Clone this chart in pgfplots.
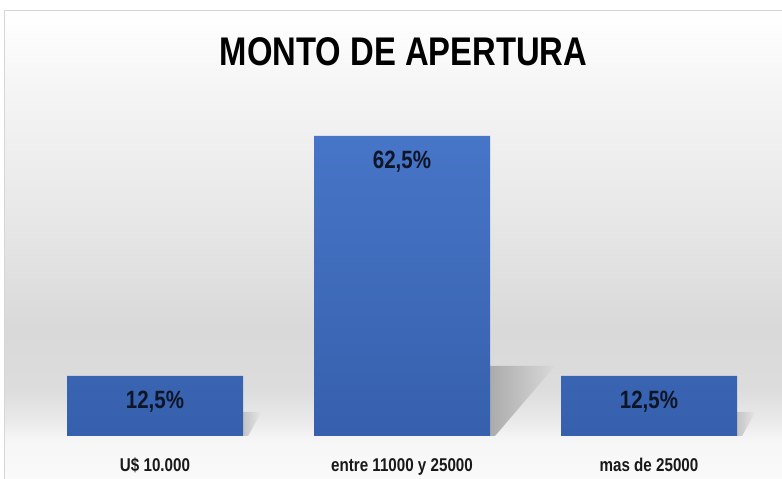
\documentclass[border=0pt]{standalone}
\usepackage{pgfplots}
\pgfplotsset{compat=1.18}
\usepackage{fontspec}
\setmainfont{Liberation Sans}[FakeStretch=0.82]
\definecolor{barTop}{HTML}{4775C7}
\definecolor{barBot}{HTML}{3660AD}
\definecolor{lbl}{HTML}{0D1526}
\definecolor{frame}{HTML}{D6D6D6}
\definecolor{g0}{gray}{0.980}
\definecolor{g1}{gray}{0.965}
\definecolor{g2}{gray}{0.915}
\definecolor{g3}{gray}{0.865}
\definecolor{g4}{gray}{0.850}
\definecolor{g5}{gray}{0.915}
\definecolor{g6}{gray}{0.955}
\definecolor{g7}{gray}{1.0}
\definecolor{shDark}{HTML}{ABABAB}
\definecolor{shLight}{HTML}{D9D9D9}
\definecolor{shDarkS}{HTML}{C4C4C4}
\definecolor{shLightS}{HTML}{E6E6E6}
\pgfdeclareverticalshading{bgshade}{100bp}{color(0bp)=(g0); color(25bp)=(g0); color(29.16bp)=(g1); color(31.3bp)=(g2); color(34.5bp)=(g3); color(40.9bp)=(g4); color(54.78bp)=(g5); color(65.45bp)=(g6); color(75bp)=(g7); color(100bp)=(g7)}
\begin{document}
\begin{tikzpicture}
\useasboundingbox (0,0) rectangle (782pt,479pt);
\fill[white] (0,0) rectangle (782pt,479pt);
\shade[shading=bgshade] (4.5pt,0) rectangle (782pt,468.5pt);
\draw[frame, line width=1.5pt] (4.5pt,0) -- (4.5pt,468.5pt) -- (782pt,468.5pt);
\node[font=\bfseries\fontsize{40}{48}\selectfont, anchor=center, inner sep=0pt] at (403.5pt,427.5pt) {MONTO DE APERTURA};
\begin{axis}[
  at={(31.5pt,43pt)}, anchor=south west,
  scale only axis, width=741pt, height=336pt,
  xmin=-0.5, xmax=2.5, ymin=0, ymax=70,
  ybar, bar width=176pt,
  axis line style={draw=none},
  ytick=\empty,
  xtick=data,
  xticklabels={U\$ 10.000, entre 11000 y 25000, mas de 25000},
  xtick style={draw=none},
  xticklabel style={font=\bfseries\fontsize{18.5}{22}\selectfont, text=black!90, anchor=base, yshift=-31pt},
  point meta=explicit symbolic,
  nodes near coords,
  every node near coord/.append style={font=\bfseries\fontsize{25}{30}\selectfont, text=lbl, anchor=center, yshift=-26pt},
  clip=false,
]
\shade[left color=shDark, right color=shLight] (axis cs:1.356,0) -- (axis cs:1.356,14.6) -- (axis cs:1.619,14.6) -- (axis cs:1.3765,0) -- cycle;
\shade[left color=shDarkS, right color=shLightS] (axis cs:0.356,0) -- (axis cs:0.356,5) -- (axis cs:0.43,5) -- (axis cs:0.377,0) -- cycle;
\shade[left color=shDarkS, right color=shLightS] (axis cs:2.356,0) -- (axis cs:2.356,5) -- (axis cs:2.43,5) -- (axis cs:2.377,0) -- cycle;
\addplot[draw=none, top color=barTop, bottom color=barBot] coordinates {
  (0,12.5) [12,5\%]
  (1,62.5) [62,5\%]
  (2,12.5) [12,5\%]
};
\end{axis}
\end{tikzpicture}
\end{document}
